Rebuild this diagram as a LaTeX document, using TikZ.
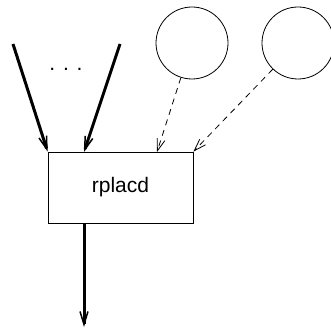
\documentclass[tikz,border=0pt]{standalone}
\usepackage{fontspec}
\setmainfont{Liberation Sans}
\usetikzlibrary{arrows.meta}
\tikzset{
  fn/.style={draw, line width=0.8pt, minimum width=145pt, minimum height=71pt, font=\fontsize{21}{25}\selectfont},
  arg/.style={draw, circle, line width=0.8pt, minimum size=72pt},
  strong/.style={line width=3pt, -{Straight Barb[length=13pt,width=8pt,line width=1.5pt]}},
  weak/.style={line width=0.8pt, dash pattern=on 6pt off 5pt, -{Straight Barb[length=12pt,width=8pt]}}
}
\begin{document}
\begin{tikzpicture}[x=1pt,y=-1pt]
      \useasboundingbox (0,0) rectangle (331,331);
      \draw
        (120.5,187.5) node[fn] (f){rplacd}
        (192,43) node[arg] (a){}
        (298,43) node[arg] (b){}
        (66,69) node[font=\fontsize{21}{25}\selectfont] (dots){. . .};
      \coordinate (in1) at (13,44);
      \coordinate (in2) at (120,44);
      \coordinate (p2) at (84,152);
      \coordinate (p3) at (157,152);
      \coordinate (p4) at (84,223);
      \coordinate (out) at (84,327);
      \begin{scope}[shorten >=0pt]
        \draw[strong] (in1) to (f.north west);
        \draw[strong] (in2) to (p2);
        \draw[weak] (a) to (p3);
        \draw[weak] (b) to (f.north east);
        \draw[strong] (p4) to (out);
      \end{scope}
    \end{tikzpicture}
\end{document}
